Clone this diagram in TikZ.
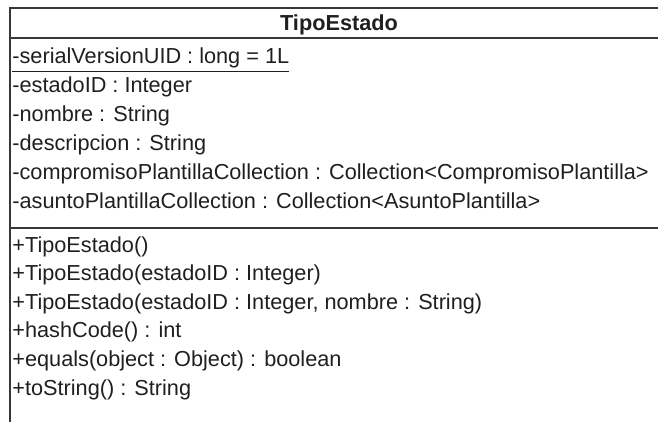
\documentclass[tikz,border=0pt]{standalone}
\usepackage{fontspec}
\setmainfont{Liberation Sans}
\usetikzlibrary{positioning}

\tikzset{
  member/.style={anchor=base west, inner sep=0pt,
    font=\fontsize{10.85}{13}\selectfont, text=black!88},
  classname/.style={anchor=base, inner sep=0pt,
    font=\fontsize{10.85}{13}\selectfont\bfseries, text=black!88},
  umlline/.style={line width=1pt, draw=black!78}
}

\begin{document}
\begin{tikzpicture}[x=0.5pt,y=-0.5pt]
\useasboundingbox (0,0) rectangle (658,422);
\clip (0,0) rectangle (658,422);

%--------------------
% Klasse (Rahmen)
%--------------------
\coordinate (boxTL) at (10,8);
\coordinate (boxTR) at (668,8);
\coordinate (boxBL) at (10,440);

\draw[umlline] (boxTR) -- (boxTL) -- (boxBL);

% Trennlinien
\coordinate (sepNameL) at (10,38.5);
\coordinate (sepNameR) at (668,38.5);
\coordinate (sepAttrL) at (10,228);
\coordinate (sepAttrR) at (668,228);

\draw[umlline] (sepNameL) -- (sepNameR);
\draw[umlline] (sepAttrL) -- (sepAttrR);

% Klassenname
\node[classname] (title) at (339,30.5) {TipoEstado};

%--------------------
% Attribute
%--------------------
\node[member] (attSerial) at (12,64)
  {\underline{-serialVersionUID : long = 1L}};
\node[member] (attEstado) at (12,93) {-estadoID : Integer};
\node[member] (attNombre) at (12,122) {-nombre : String};
\node[member] (attDescr) at (12,151) {-descripcion : String};
\node[member] (attCompr) at (12,180)
  {-compromisoPlantillaCollection : Collection<CompromisoPlantilla>};
\node[member] (attAsunto) at (12,209)
  {-asuntoPlantillaCollection : Collection<AsuntoPlantilla>};

%--------------------
% Methoden
%--------------------
\node[member] (opCtor) at (12,252) {+TipoEstado()};
\node[member] (opCtorId) at (12,280.6)
  {+TipoEstado(estadoID : Integer)};
\node[member] (opCtorFull) at (12,309.2)
  {+TipoEstado(estadoID : Integer, nombre : String)};
\node[member] (opHash) at (12,337.8) {+hashCode() : int};
\node[member] (opEquals) at (12,366.4)
  {+equals(object : Object) : boolean};
\node[member] (opToStr) at (12,395) {+toString() : String};

\end{tikzpicture}
\end{document}
